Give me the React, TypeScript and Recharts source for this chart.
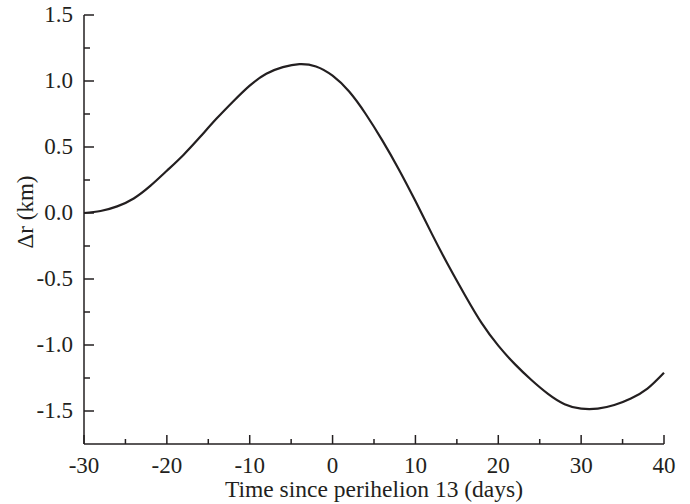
import { LineChart, Line, XAxis, YAxis, Label } from "recharts";

// days since perihelion 13 and the radial offset in km
const days = [
  -30, -28, -26, -24, -22, -20, -18, -16, -14, -12, -10, -8, -6, -4, -2, 0, 2, 4, 6, 8, 10,
  12, 14, 16, 18, 20, 22, 24, 26, 28, 30, 32, 34, 36, 38, 40,
];
const deltaR = [
  0.0, 0.015, 0.05, 0.11, 0.205, 0.32, 0.44, 0.575, 0.715, 0.845, 0.965, 1.055, 1.105, 1.128,
  1.11, 1.04, 0.92, 0.75, 0.55, 0.33, 0.09, -0.16, -0.4, -0.625, -0.835, -1.005, -1.145,
  -1.265, -1.37, -1.448, -1.482, -1.482, -1.455, -1.405, -1.33, -1.21,
];
const xTicks = [-30, -25, -20, -15, -10, -5, 0, 5, 10, 15, 20, 25, 30, 35, 40];
const yTicks = [-1.5, -1.25, -1.0, -0.75, -0.5, -0.25, 0, 0.25, 0.5, 0.75, 1.0, 1.25, 1.5];

const data = days.map((d, i) => ({ day: d, dr: deltaR[i] }));

const INK = "#231f20";
const textStyle = {
  fontFamily: '"Liberation Serif", "Times New Roman", serif',
  fontSize: 23,
  fill: INK,
};

const isMajorX = (v: number) => v % 10 === 0;
const isMajorY = (v: number) => Math.abs(Math.round(v * 2) - v * 2) < 1e-6;

const BottomTick = ({ x, y, payload }: any) => {
  const major = isMajorX(payload.value);
  return (
    <g>
      <line x1={x} y1={y} x2={x} y2={y - (major ? 9 : 5)} stroke={INK} strokeWidth={1.5} />
      {major && (
        <text x={x} y={y + 29} textAnchor="middle" style={textStyle}>
          {payload.value}
        </text>
      )}
    </g>
  );
};

const TopTick = ({ x, y, payload }: any) => {
  const major = isMajorX(payload.value);
  return <line x1={x} y1={y} x2={x} y2={y + (major ? 9 : 5)} stroke={INK} strokeWidth={1.5} />;
};

const LeftTick = ({ x, y, payload }: any) => {
  const major = isMajorY(payload.value);
  return (
    <g>
      <line x1={x} y1={y} x2={x + (major ? 10 : 6)} y2={y} stroke={INK} strokeWidth={1.5} />
      {major && (
        <text x={x - 11} y={y + 7} textAnchor="end" style={textStyle}>
          {Number(payload.value).toFixed(1)}
        </text>
      )}
    </g>
  );
};

const RightTick = ({ x, y, payload }: any) => {
  const major = isMajorY(payload.value);
  return <line x1={x} y1={y} x2={x - (major ? 10 : 6)} y2={y} stroke={INK} strokeWidth={1.5} />;
};

export default function App() {
  return (
    <div style={{ position: "absolute", left: 0, top: 0, background: "#fff" }}>
      <LineChart width={690} height={504} data={data} margin={{ top: 15, right: 26, bottom: 0, left: 0 }}>
        <XAxis
          dataKey="day"
          type="number"
          domain={[-30, 40]}
          ticks={xTicks}
          interval={0}
          height={60}
          tickSize={0}
          tickMargin={0}
          tickLine={false}
          tick={<BottomTick />}
          axisLine={{ stroke: INK, strokeWidth: 1.5 }}
        >
          <Label
            content={({ viewBox }: any) => (
              <text
                x={viewBox.x + viewBox.width / 2}
                y={497}
                textAnchor="middle"
                style={{ ...textStyle, fontSize: 23.5 }}
              >
                Time since perihelion 13 (days)
              </text>
            )}
          />
        </XAxis>
        <XAxis
          xAxisId="top"
          orientation="top"
          dataKey="day"
          type="number"
          domain={[-30, 40]}
          ticks={xTicks}
          interval={0}
          height={0}
          tickSize={0}
          tickMargin={0}
          tickLine={false}
          tick={<TopTick />}
          axisLine={{ stroke: INK, strokeWidth: 1.5 }}
        />
        <YAxis
          type="number"
          domain={[-1.75, 1.5]}
          ticks={yTicks}
          interval={0}
          width={84}
          allowDataOverflow
          tickSize={0}
          tickMargin={0}
          tickLine={false}
          tick={<LeftTick />}
          axisLine={{ stroke: INK, strokeWidth: 1.5 }}
        >
          <Label
            content={() => (
              <text
                x={33}
                y={212}
                transform="rotate(-90 33 212)"
                textAnchor="middle"
                style={textStyle}
              >
                Δr (km)
              </text>
            )}
          />
        </YAxis>
        <YAxis
          yAxisId="right"
          orientation="right"
          type="number"
          domain={[-1.75, 1.5]}
          ticks={yTicks}
          interval={0}
          width={0}
          allowDataOverflow
          tickSize={0}
          tickMargin={0}
          tickLine={false}
          tick={<RightTick />}
          axisLine={{ stroke: INK, strokeWidth: 1.5 }}
        />
        <Line
          type="natural"
          dataKey="dr"
          stroke={INK}
          strokeWidth={2.2}
          dot={false}
          isAnimationActive={false}
        />
      </LineChart>
    </div>
  );
}
